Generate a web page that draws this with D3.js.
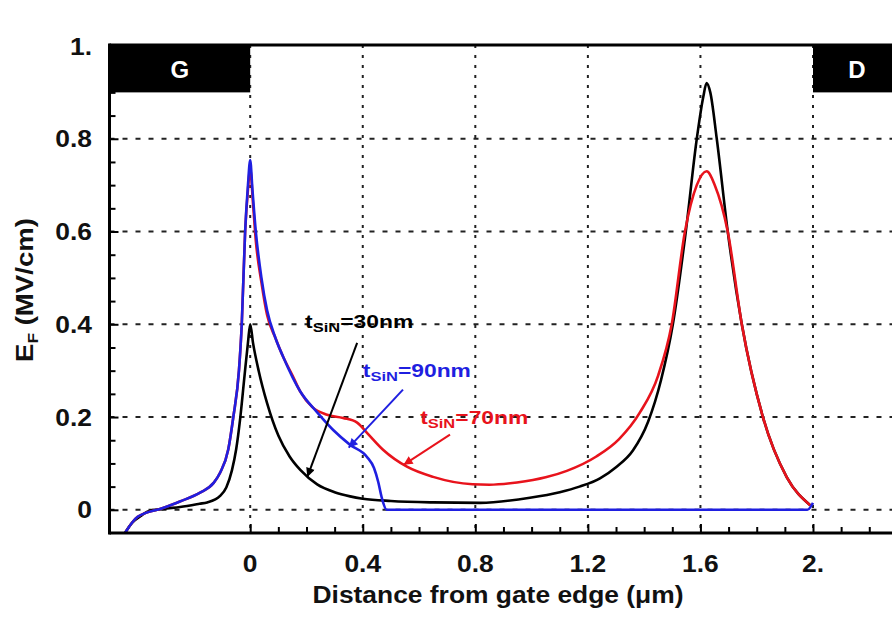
<!DOCTYPE html>
<html><head><meta charset="utf-8">
<script src="https://cdn.jsdelivr.net/npm/d3@7"></script>
<style>
body{margin:0;background:#fff}
svg text{font-family:"Liberation Sans",Arial,Helvetica,sans-serif;font-weight:bold}
</style>
</head><body>
<svg id="chart" width="892" height="618"></svg>
<script>
// ---- data (distance in µm, field in MV/cm) ----
const x30 = [-0.445,-0.42,-0.39,-0.366,-0.31,-0.249,-0.18,-0.153,-0.107,-0.085,-0.065,-0.05,-0.035,-0.02,-0.008,0,0.01,0.03,0.06,0.1,0.14,0.178,0.238,0.3,0.355,0.4,0.5,0.65,0.817,0.994,1.1,1.17,1.243,1.3,1.36,1.414,1.46,1.502,1.548,1.587,1.61,1.622,1.635,1.658,1.697,1.747,1.822,1.907,1.99];
const y30 = [-0.05,-0.028,-0.014,-0.004,0.002,0.006,0.013,0.016,0.03,0.048,0.085,0.13,0.2,0.29,0.36,0.40,0.36,0.3,0.23,0.16,0.115,0.086,0.055,0.038,0.029,0.024,0.019,0.016,0.015,0.026,0.038,0.05,0.068,0.092,0.128,0.19,0.28,0.4,0.6,0.8,0.89,0.92,0.9,0.8,0.6,0.4,0.2,0.07,0.01];

const x70 = [-0.445,-0.4,-0.31,-0.25,-0.178,-0.13,-0.107,-0.078,-0.06,-0.04,-0.03,-0.018,-0.008,0,0.01,0.02,0.04,0.06,0.09,0.117,0.15,0.178,0.22,0.273,0.33,0.38,0.415,0.473,0.557,0.65,0.79,0.85,0.948,1.05,1.125,1.23,1.31,1.385,1.45,1.498,1.545,1.587,1.622,1.651,1.697,1.747,1.822,1.907,1.99];
const y70 = [-0.05,-0.015,0.004,0.018,0.037,0.058,0.08,0.13,0.2,0.3,0.4,0.6,0.69,0.735,0.66,0.58,0.49,0.42,0.37,0.33,0.29,0.255,0.222,0.205,0.198,0.188,0.166,0.129,0.093,0.071,0.055,0.054,0.059,0.07,0.084,0.115,0.152,0.21,0.29,0.4,0.6,0.7,0.73,0.7,0.6,0.4,0.2,0.07,0.01];

const x90 = [-0.445,-0.4,-0.31,-0.25,-0.178,-0.13,-0.107,-0.078,-0.06,-0.04,-0.03,-0.018,-0.008,0,0.008,0.02,0.04,0.06,0.09,0.117,0.178,0.238,0.295,0.355,0.415,0.44,0.455,0.468,0.485,1.98,2.0];
const y90 = [-0.05,-0.015,0.004,0.018,0.037,0.058,0.08,0.13,0.2,0.3,0.4,0.6,0.7,0.754,0.69,0.6,0.5,0.43,0.37,0.33,0.255,0.21,0.172,0.14,0.114,0.09,0.06,0.025,0,0,0.015];

const xTickValues = [0,0.4,0.8,1.2,1.6,2.0];
const xTickLabels = ["0","0.4","0.8","1.2","1.6","2."];
const yTickValues = [0,0.2,0.4,0.6,0.8,1.0];
const yTickLabels = ["0","0.2","0.4","0.6","0.8","1."];
const xMinorTicks = d3.range(0,25).map(i=>i/10);
const yMinorTicks = d3.range(0,21).map(i=>i/20);
const xGrid = [0,0.4,0.8,1.2,1.6,2.0];
const yGrid = [0,0.2,0.4,0.6,0.8];

const seriesNames = ["30nm","70nm","90nm"];
const seriesColors = ["#000000","#e8131c","#1f1fe0"];

// annotations (data units)
const annotations = [
  {label:"30nm", tx:0.195, ty:0.392, ax1:0.38, ay1:0.36, ax2:0.203, ay2:0.071},
  {label:"90nm", tx:0.40, ty:0.286, ax1:0.543, ay1:0.259, ax2:0.35, ay2:0.134},
  {label:"70nm", tx:0.604, ty:0.184, ax1:0.71, ay1:0.162, ax2:0.545, ay2:0.097}
];

// ---- layout ----
const W=892, H=618;
const x = d3.scaleLinear().domain([-0.5,2.5]).range([109.5, 109.5+3*281.4]);
const y = d3.scaleLinear().domain([-0.05,1.0]).range([533,46]);
const plotLeft = x(-0.5), plotTop = 45, plotBottom = y(-0.05);

const svg = d3.select("#chart");
svg.append("rect").attr("width",W).attr("height",H).attr("fill","#fff");

const defs = svg.append("defs");
defs.append("clipPath").attr("id","clip").append("rect")
  .attr("x",plotLeft).attr("y",plotTop).attr("width",W-plotLeft).attr("height",plotBottom-plotTop);
seriesColors.forEach((c,i)=>{
  defs.append("marker").attr("id","arr"+i)
    .attr("viewBox","0 0 10 10").attr("refX",10).attr("refY",5)
    .attr("markerWidth",14).attr("markerHeight",9).attr("markerUnits","userSpaceOnUse")
    .attr("orient","auto")
    .append("path").attr("d","M0,0 L10,5 L0,10 Z").attr("fill",c);
});

// grid
const grid = svg.append("g");
grid.selectAll(".hg").data(yGrid).join("line")
  .attr("x1",plotLeft).attr("x2",W).attr("y1",d=>y(d)).attr("y2",d=>y(d))
  .attr("stroke","#222").attr("stroke-width",2).attr("stroke-dasharray","5,8");
grid.selectAll(".vg").data(xGrid).join("line")
  .attr("x1",d=>x(d)).attr("x2",d=>x(d)).attr("y1",plotTop).attr("y2",plotBottom)
  .attr("stroke","#222").attr("stroke-width",2).attr("stroke-dasharray","3,7");

// G and D blocks
const blockBottom = y(0.9);
svg.append("rect").attr("x",plotLeft).attr("y",plotTop).attr("width",x(0)-plotLeft).attr("height",blockBottom-plotTop).attr("fill","#000");
svg.append("rect").attr("x",x(2.0)).attr("y",plotTop).attr("width",W-x(2.0)).attr("height",blockBottom-plotTop).attr("fill","#000");
svg.append("text").attr("x",(plotLeft+x(0))/2).attr("y",78).attr("text-anchor","middle").attr("fill","#fff").attr("font-size",24).text("G");
svg.append("text").attr("x",857).attr("y",78).attr("text-anchor","middle").attr("fill","#fff").attr("font-size",24).text("D");

// curves
const line = d3.line().x(d=>x(d[0])).y(d=>y(d[1])).curve(d3.curveMonotoneX);
const seriesData = [d3.zip(x30,y30), d3.zip(x70,y70), d3.zip(x90,y90)];
const cg = svg.append("g").attr("clip-path","url(#clip)");
seriesData.forEach((s,i)=>{
  cg.append("path").datum(s).attr("d",line).attr("fill","none")
    .attr("stroke",seriesColors[i]).attr("stroke-width",2.6).attr("stroke-linejoin","round");
});

// axes
const axB = d3.axisBottom(x).tickValues(xMinorTicks).tickSize(-6).tickFormat("");
const gB = svg.append("g").attr("transform",`translate(0,${plotBottom})`).call(axB);
gB.select(".domain").remove();
gB.selectAll(".tick line").attr("stroke","#000").attr("stroke-width",2)
  .attr("y2",d=>xTickValues.some(v=>Math.abs(v-d)<1e-6)?-9:-6);
const axL = d3.axisLeft(y).tickValues(yMinorTicks).tickSize(-6).tickFormat("");
const gL = svg.append("g").attr("transform",`translate(${plotLeft},0)`).call(axL);
gL.select(".domain").remove();
gL.selectAll(".tick line").attr("stroke","#000").attr("stroke-width",2)
  .attr("x2",d=>yTickValues.some(v=>Math.abs(v-d)<1e-6)?9:6);

svg.append("line").attr("x1",plotLeft).attr("x2",W).attr("y1",plotBottom).attr("y2",plotBottom).attr("stroke","#000").attr("stroke-width",3);
svg.append("line").attr("x1",plotLeft).attr("x2",W).attr("y1",plotTop).attr("y2",plotTop).attr("stroke","#000").attr("stroke-width",3);
svg.append("line").attr("x1",plotLeft).attr("x2",plotLeft).attr("y1",plotTop-1.5).attr("y2",plotBottom+1.5).attr("stroke","#000").attr("stroke-width",3);

// tick labels
xTickValues.forEach((v,i)=>{
  svg.append("text").attr("transform",`translate(${x(v)},572) scale(1.1,1)`)
    .attr("text-anchor","middle").attr("font-size",24).attr("fill","#111").text(xTickLabels[i]);
});
yTickValues.forEach((v,i)=>{
  svg.append("text").attr("transform",`translate(92,${y(v)+8.5}) scale(1.1,1)`)
    .attr("text-anchor","end").attr("font-size",24).attr("fill","#111").text(yTickLabels[i]);
});

// axis titles
svg.append("text").attr("transform","translate(498,603) scale(1.1,1)").attr("text-anchor","middle")
  .attr("font-size",24).attr("fill","#111").text("Distance from gate edge (μm)");
const yt = svg.append("text").attr("transform","translate(33,290) rotate(-90) scale(1.15,1)")
  .attr("text-anchor","middle").attr("font-size",24).attr("fill","#111");
yt.append("tspan").text("E");
yt.append("tspan").attr("font-size",15).attr("dy",5).text("F");
yt.append("tspan").attr("dy",-5).text(" (MV/cm)");

// annotations
annotations.forEach(a=>{
  const i = seriesNames.indexOf(a.label);
  const c = seriesColors[i];
  svg.append("line").attr("x1",x(a.ax1)).attr("y1",y(a.ay1)).attr("x2",x(a.ax2)).attr("y2",y(a.ay2))
    .attr("stroke",c).attr("stroke-width",2).attr("marker-end",`url(#arr${i})`);
  const t = svg.append("text").attr("transform",`translate(${x(a.tx)},${y(a.ty)}) scale(1.27,1)`)
    .attr("font-size",18).attr("fill",c);
  t.append("tspan").text("t");
  t.append("tspan").attr("font-size",13).attr("dy",4).text("SiN");
  t.append("tspan").attr("dy",-4).text("=" + a.label);
});
</script>
</body></html>
